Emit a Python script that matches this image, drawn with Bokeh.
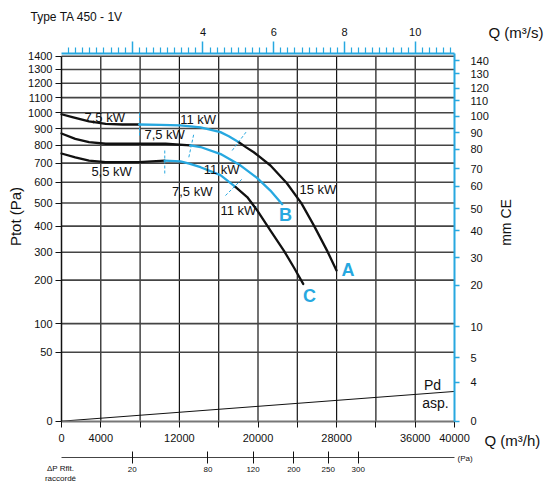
import numpy as np
from bokeh.plotting import figure
from bokeh.models import Range1d, LinearAxis, FixedTicker, Label
from bokeh.embed import file_html
from bokeh.resources import INLINE

# ---------------- data (Q in m3/h, Ptot in Pa) ----------------
# Curve A
A1_Q = [0, 1100, 2800, 4500, 6200, 7900]
A1_P = [990, 971, 944, 929, 925, 925]
A2_Q = [7900, 10080, 12110, 14150, 16180, 17030, 18050]
A2_P = [925, 923, 920, 907, 878, 853, 818]
A3_Q = [18050, 18800, 19570, 20080, 21270, 22920, 24410, 25710, 27070, 27990]
A3_P = [818, 788, 760, 738, 687, 596, 500, 401, 303, 239]
# Curve B
B1_Q = [0, 1400, 2800, 4500, 7900, 10600, 13100]
B1_P = [870, 838, 818, 809, 809, 809, 799]
B2_Q = [13100, 14150, 16200, 18200, 19900, 21260, 22460]
B2_P = [799, 790, 750, 688, 622, 559, 495]
# Curve C
C1_Q = [0, 1400, 2800, 4500, 7900, 10500]
C1_P = [753, 732, 714, 705, 705, 714]
C2_Q = [10500, 12110, 13000, 14150, 16180, 17700]
C2_P = [714, 709, 697, 678, 636, 577]
C3_Q = [17700, 18900, 19920, 21270, 22630, 23640, 24600]
C3_P = [577, 528, 467, 382, 306, 249, 198]
# Motor change markers (dashed), start/end points
SEP_Q0 = [7940, 17370, 12960, 10510, 16690]
SEP_P0 = [1000, 770, 732, 770, 535]
SEP_Q1 = [7940, 18830, 13470, 10510, 18390]
SEP_P1 = [858, 882, 868, 634, 617]
# Dynamic pressure line
PD_Q = [0, 40000]
PD_P = [0, 9.3]

# Axis ticks
LEFT_LABELS = ["0", "50", "100", "200", "300", "400", "500", "600", "700", "800", "900",
               "1000", "1100", "1200", "1300", "1400"]
LEFT_TICKS_PA = [0, 50, 100, 209, 300, 400, 500, 600, 700, 800, 900, 1000, 1100, 1200, 1300, 1400]
RIGHT_LABELS = ["0", "4", "5", "10", "20", "30", "40", "50", "60", "70", "80", "90", "100",
                "110", "120", "130", "140"]
RIGHT_TICKS_PA = [0, 16, 42, 94, 194, 281, 382, 474, 580, 669, 776, 874, 976, 1079, 1165, 1268, 1365]
Q_TICKS = [0, 4000, 8000, 12000, 16000, 20000, 24000, 28000, 32000, 36000, 40000]
Q_LABELED = [0, 4000, 12000, 20000, 28000, 36000, 40000]
QS_MAJOR = [2, 4, 6, 8, 10]
QS_LABELED = [4, 6, 8, 10]
RFLT_Q = [7200, 14900, 19500, 23650, 27150, 30200]
RFLT_LABELS = ["20", "80", "120", "200", "250", "300"]

# kW annotations: text, Q, Ptot
KW_LABELS = [
    ("7,5 kW", 4400, 970), ("11 kW", 13900, 955), ("15 kW", 26100, 565),
    ("7,5 kW", 10500, 865), ("11 kW", 16300, 668),
    ("5,5 kW", 5100, 655), ("7,5 kW", 13300, 556), ("11 kW", 18000, 465),
]
CURVE_NAMES = [("A", 29150, 240), ("B", 22800, 445), ("C", 25250, 166)]

# ---------------- layout & styling ----------------
BLUE = "#27a8e0"
BLACK = "#111111"
FONT = "Liberation Sans"
QMAX = 40000
YMAX = float(np.sqrt(1400))
CW, CH = 546, 484                      # canvas
FL, FR, FT, FB = 61, 454, 55.7, 420.7  # chart area inside the canvas (px)
QPX = QMAX / (FR - FL)
YPX = YMAX / (FB - FT)


def X(px):
    return (px - FL) * QPX


def Y(py):
    return (FB - py) * YPX


def t(pa):
    return np.sqrt(np.asarray(pa, dtype=float))


p = figure(frame_width=CW, frame_height=CH,
           x_range=Range1d(X(0), X(CW)), y_range=Range1d(Y(CH), Y(0)),
           output_backend="svg", toolbar_location=None, title=None,
           x_axis_location=None, y_axis_location=None,
           min_border_left=0, min_border_right=0, min_border_top=0, min_border_bottom=0)
p.outline_line_color = None
p.background_fill_color = "white"
p.border_fill_color = "white"
p.grid.visible = False


def style(ax, line_color, tick_color, size="11px"):
    ax.axis_line_color = line_color
    ax.major_tick_line_color = tick_color
    ax.major_tick_in = 0
    ax.major_label_text_font = FONT
    ax.major_label_text_font_size = size
    ax.major_label_text_color = BLACK


# grid (drawn from the tick lists)
lt = [float(v) for v in t(LEFT_TICKS_PA)]
p.segment(x0=Q_TICKS[1:-1], y0=0, x1=Q_TICKS[1:-1], y1=YMAX, line_color="#151515", line_width=1.2)
p.segment(x0=0, y0=lt[1:], x1=QMAX, y1=lt[1:], line_color="#444444", line_width=1.6)

# bottom axis (Q m3/h)
xa = LinearAxis(ticker=FixedTicker(ticks=Q_TICKS, minor_ticks=[]), fixed_location=0, bounds=(0, QMAX),
                major_label_overrides={q: (str(q) if q in Q_LABELED else "") for q in Q_TICKS})
style(xa, "#777777", BLACK)
xa.axis_line_width = 2
xa.major_tick_out = 6
xa.major_label_standoff = 7
p.add_layout(xa, "below")

# left axis (Pa)
ya = LinearAxis(ticker=FixedTicker(ticks=lt, minor_ticks=[]), fixed_location=0, bounds=(0, YMAX),
                major_label_overrides={k: s for k, s in zip(lt, LEFT_LABELS)})
style(ya, BLACK, BLACK)
ya.axis_line_width = 1.5
ya.major_tick_out = 6
ya.major_label_standoff = 3
p.add_layout(ya, "left")

# right axis (mm CE)
rt = [float(v) for v in t(RIGHT_TICKS_PA)]
ra = LinearAxis(ticker=FixedTicker(ticks=rt, minor_ticks=[]), fixed_location=QMAX, bounds=(0, Y(53)),
                major_label_overrides={k: s for k, s in zip(rt, RIGHT_LABELS)})
style(ra, BLUE, BLUE)
ra.axis_line_width = 2
ra.major_tick_line_width = 1.5
ra.major_tick_out = 5
ra.major_label_standoff = 11
p.add_layout(ra, "right")

# top axis (Q m3/s)
p.extra_x_ranges = {"qs": Range1d(X(0) / 3600, X(CW) / 3600)}
qs_minor = [round(0.2 * i, 1) for i in range(1, 56) if i % 10 != 0]
ta = LinearAxis(x_range_name="qs", ticker=FixedTicker(ticks=QS_MAJOR, minor_ticks=qs_minor),
                fixed_location=Y(53), bounds=(0, QMAX / 3600),
                major_label_overrides={v: (str(v) if v in QS_LABELED else "") for v in QS_MAJOR})
style(ta, BLUE, BLUE)
ta.axis_line_width = 2
ta.major_tick_line_width = 1.5
ta.major_tick_out = 12
ta.minor_tick_line_color = BLUE
ta.minor_tick_line_width = 1.2
ta.minor_tick_out = 6
ta.minor_tick_in = 0
ta.major_label_standoff = 6
p.add_layout(ta, "above")

# filter pressure-drop scale
rf = LinearAxis(ticker=FixedTicker(ticks=RFLT_Q, minor_ticks=[]), fixed_location=Y(457), bounds=(0, QMAX),
                major_label_overrides={q: s for q, s in zip(RFLT_Q, RFLT_LABELS)})
style(rf, "#444444", BLACK, "8px")
rf.axis_line_width = 1
rf.major_tick_in = 6
rf.major_tick_out = 6
rf.major_label_standoff = 3
p.add_layout(rf, "below")

# curves
segs = [(A1_Q, A1_P, BLACK), (A2_Q, A2_P, BLUE), (A3_Q, A3_P, BLACK),
        (B1_Q, B1_P, BLACK), (B2_Q, B2_P, BLUE),
        (C1_Q, C1_P, BLACK), (C2_Q, C2_P, BLUE), (C3_Q, C3_P, BLACK)]
for q, pa, col in segs:
    p.line(q, t(pa), line_color=col, line_width=2.3, line_join="round", line_cap="round")

p.segment(SEP_Q0, t(SEP_P0), SEP_Q1, t(SEP_P1), line_color=BLUE, line_width=1, line_dash="3 2")
p.line(PD_Q, t(PD_P), line_color=BLACK, line_width=1)

for txt, q, pa in KW_LABELS:
    p.add_layout(Label(x=q, y=float(np.sqrt(pa)), text=txt, text_align="center", text_baseline="middle",
                       text_font=FONT, text_font_size="13px", text_color=BLACK))
for txt, q, pa in CURVE_NAMES:
    p.add_layout(Label(x=q, y=float(np.sqrt(pa)), text=txt, text_align="center", text_baseline="middle",
                       text_font=FONT, text_font_size="18px", text_font_style="bold", text_color=BLUE))


def out_label(txt, px, py, size, align="left", angle=0.0, baseline="middle"):
    p.add_layout(Label(x=X(px), y=Y(py), text=txt, text_align=align, text_baseline=baseline, angle=angle,
                       text_font=FONT, text_font_size=size, text_color=BLACK))


out_label("Pd", 432, 384, "14px", align="center")
out_label("asp.", 435, 402.5, "14px", align="center")
out_label("Type TA 450 - 1V", 30, 16, "12px")
out_label("Q (m³/s)", 488, 32, "15px")
out_label("Q (m³/h)", 484, 440, "15px")
out_label("Ptot (Pa)", 15, 216, "15px", align="center", angle=np.pi / 2)
out_label("mm CE", 505, 222, "14px", align="center", angle=np.pi / 2)
out_label("(Pa)", 457, 458, "8px")
out_label("ΔP Rflt.", 60, 468, "8px", align="center")
out_label("raccordé", 60, 478, "8px", align="center")

open("out.html", "w").write(file_html(p, INLINE))
